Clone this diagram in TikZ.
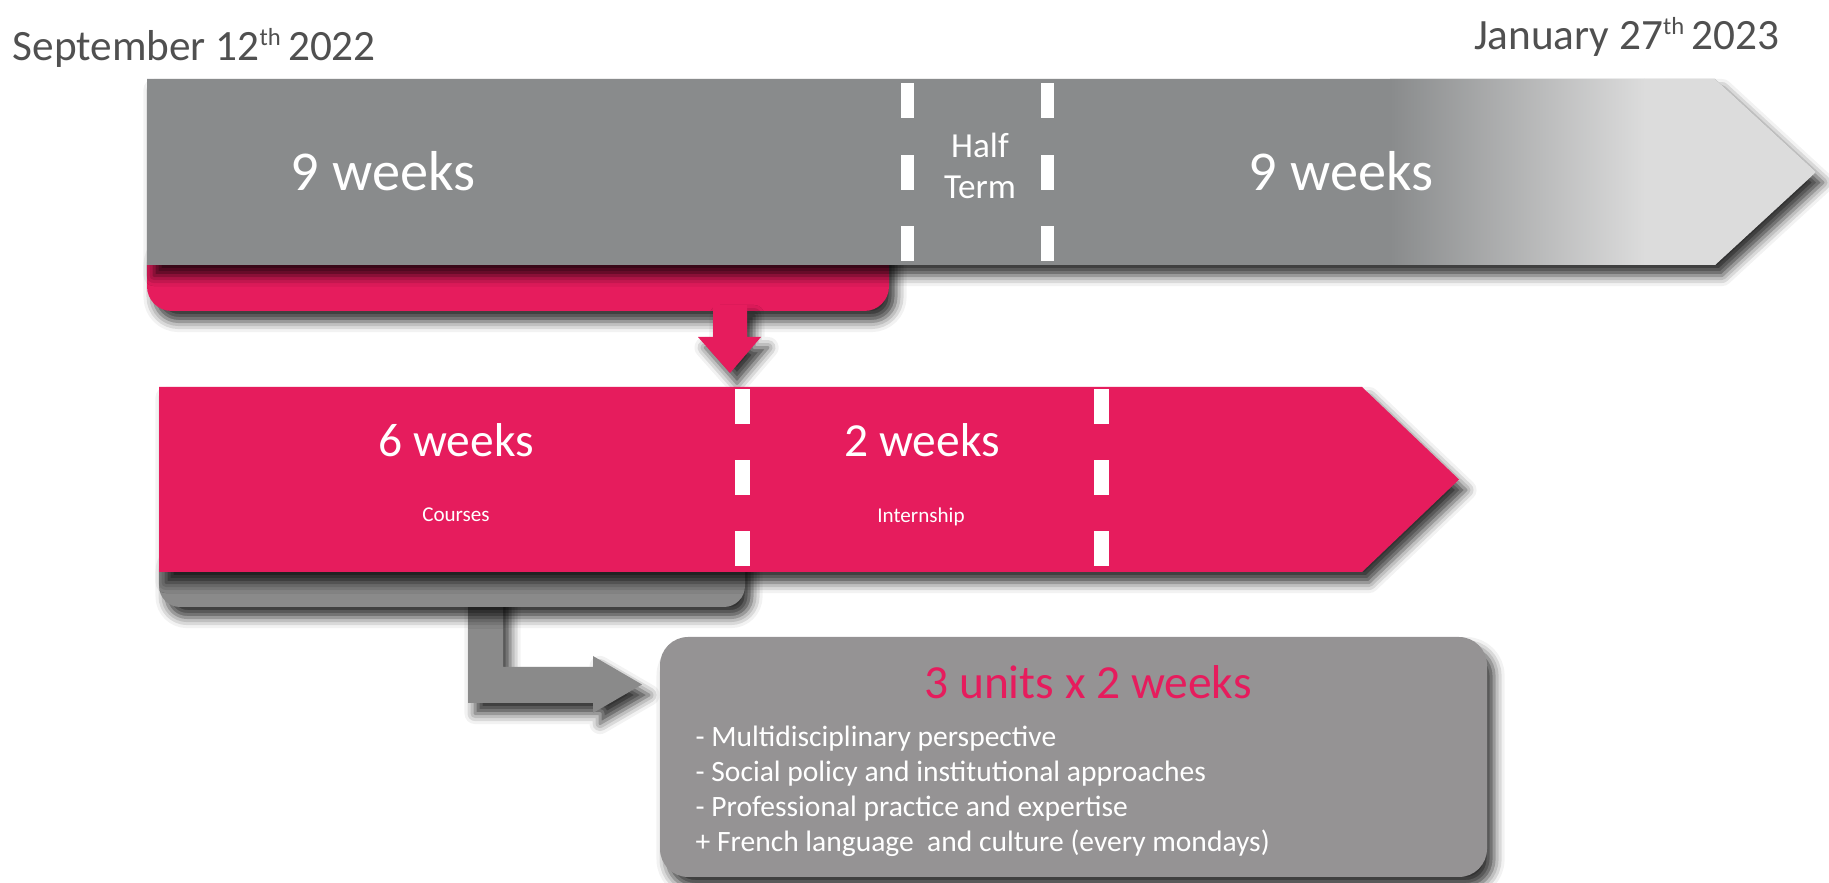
\documentclass[tikz,border=0pt]{standalone}
\usepackage{fontspec}
\setmainfont{Carlito}
\usepackage{xcolor}
\usepackage{tikz}
\usetikzlibrary{positioning,shadows,shadows.blur}

\definecolor{barGrey}{HTML}{898B8C}
\definecolor{fadeGrey}{HTML}{DCDCDC}
\definecolor{rosePink}{HTML}{E61C5D}
\definecolor{tabGrey}{HTML}{8A8A8A}
\definecolor{boxGrey}{HTML}{959394}
\definecolor{dateGrey}{HTML}{505050}

\newcommand{\ordsup}[1]{\raisebox{0.75ex}{\fontsize{7}{8}\selectfont #1}}

\begin{document}
\begin{tikzpicture}[x=0.01cm,y=-0.01cm,
    soft/.style={blur shadow={shadow xshift=2pt,shadow yshift=-3pt,shadow blur radius=3pt,shadow opacity=80}},
    date/.style={text=dateGrey,font=\fontsize{12.3}{15}\selectfont,inner sep=0pt},
    big/.style={text=white,font=\fontsize{16}{19}\selectfont},
    mid/.style={text=white,font=\fontsize{13.5}{16}\selectfont},
    small/.style={text=white,font=\fontsize{6}{7}\selectfont},
    item/.style={text=white,font=\fontsize{8.4}{10}\selectfont,anchor=base west,inner sep=0pt}]

    \useasboundingbox (0,0) rectangle (1829,883);

    % Dates
    \node [date,anchor=base west] at (12,61) (start) {September 12\ordsup{th}\,2022};
    \node [date,anchor=base east] at (1780,50) (end) {January 27\ordsup{th}\,2023};

    % Pink tab under the semester
    \fill [rosePink,rounded corners=7pt,soft] (147,230) rectangle (889,311);

    % The semester arrow
    \begin{scope}
      \fill [barGrey,soft] (147,79) -- (1715,79) -- (1816,172) -- (1715,265) -- (147,265) -- cycle;
      \clip (147,79) -- (1715,79) -- (1816,172) -- (1715,265) -- (147,265) -- cycle;
      \shade [left color=barGrey,right color=fadeGrey] (1390,70) rectangle (1645,270);
      \fill [fadeGrey] (1644,70) rectangle (1830,270);
    \end{scope}
    \foreach \x in {907,1047}
      \foreach \y in {83,155,226}
        \fill [white] (\x-6.5,\y) rectangle ++(13,35);

    \node [big] at (383,171) (first) {9 weeks};
    \node [big] at (1341,171) (second) {9 weeks};
    \node [text=white,align=center,font=\fontsize{10}{11.7}\selectfont] at (980,166) (half) {Half\\Term};

    % Pink arrow down
    \fill [rosePink,soft] (713,305) -- (747,305) -- (747,337) -- (761,337) -- (730,373)
      -- (698,337) -- (713,337) -- cycle;

    % L arrow and grey tab
    \fill [tabGrey,soft] (468,590) -- (503,590) -- (503,667) -- (593,667) -- (593,656)
      -- (642,684.5) -- (593,713) -- (593,703) -- (468,703) -- cycle;
    \fill [tabGrey,rounded corners=6pt,soft] (159,540) rectangle (745,607);

    % The first half term arrow
    \fill [rosePink,soft] (159,387) -- (1362,387) -- (1459,479.5) -- (1362,572) -- (159,572) -- cycle;
    \foreach \x in {742,1101}
      \foreach \y in {389,460,531}
        \fill [white] (\x-7.5,\y) rectangle ++(15,35);

    \node [mid] at (456,440) (six) {6 weeks};
    \node [small] at (456,515) (courses) {Courses};
    \node [mid] at (922,440) (two) {2 weeks};
    \node [small] at (921,517) (intern) {Internship};

    % The units box
    \fill [boxGrey,rounded corners=8pt,soft] (660,637) rectangle (1487,877);
    \node [mid,text=rosePink] at (1088,682) (units) {3 units x 2 weeks};
    \foreach \txt [count=\i from 0] in {- Multidisciplinary perspective,
        - Social policy and institutional approaches,
        - Professional practice and expertise,
        + French language\ \ and culture (every mondays)}
      \node [item] at (695,747+35*\i) (line\i) {\txt};

\end{tikzpicture}
\end{document}
